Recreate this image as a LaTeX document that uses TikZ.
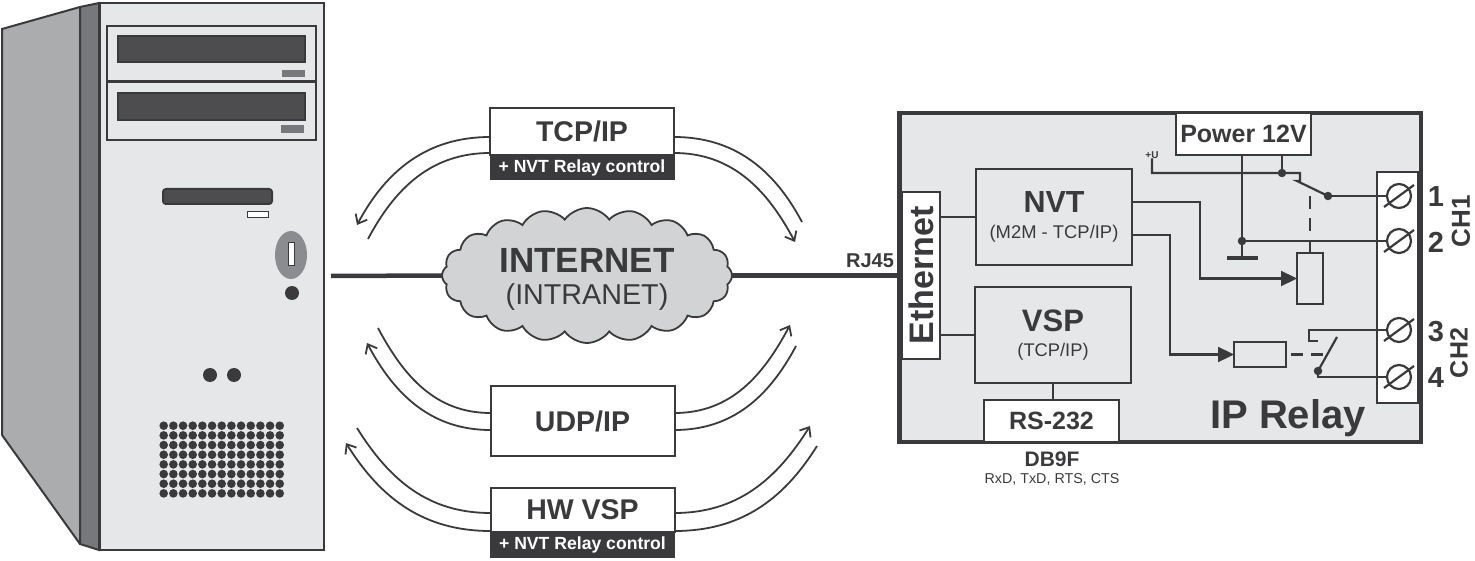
\documentclass[tikz,border=0pt]{standalone}
\usepackage{fontspec}
\setmainfont{Liberation Sans}
\usetikzlibrary{positioning,arrows.meta,shapes.symbols}
\definecolor{ink}{HTML}{3A3A3C}
\definecolor{panel}{HTML}{E6E7E8}
\definecolor{sidewall}{HTML}{ABACAE}
\definecolor{edgewall}{HTML}{77787B}
\definecolor{slot}{HTML}{4D4D4F}
\definecolor{cloudgray}{HTML}{D1D3D4}
\newcommand{\fs}[1]{\fontsize{#1}{#1}\selectfont}
\begin{document}
\begin{tikzpicture}[x=1pt,y=-1pt,
  every node/.style={text=ink,inner sep=0pt,outer sep=0pt},
  towerline/.style={draw=ink,line width=2pt},
  proto/.style={draw=ink,fill=white,line width=2pt,minimum width=184pt,font=\fs{28.5}\bfseries},
  extra/.style={draw=ink,fill=ink,text=white,line width=1pt,minimum width=184pt,minimum height=25pt,font=\fs{17.6}\bfseries},
  flow/.style={draw=ink,line width=1.8pt},
  flowtip/.style={flow,-{Straight Barb[length=8pt,width=13pt,line width=1.8pt]}},
  block/.style={draw=ink,line width=2.4pt,align=center,minimum width=156pt,minimum height=96pt},
  wire/.style={draw=ink,line width=2.2pt},
  feed/.style={wire,-{Triangle[length=16pt,width=15pt]}},
  coil/.style={draw=ink,line width=2.2pt},
  screw/.style={circle,draw=ink,line width=2.2pt,minimum size=24pt},
  junction/.style={circle,fill=ink,minimum size=8.5pt},
  pin/.style={font=\fs{29}\bfseries}]
\useasboundingbox (0,0) rectangle (1475,561);

% tower
\fill[sidewall] (2,29) -- (80,7) -- (80,544) -- (2,435) -- cycle;
\draw[towerline] (2,435) -- (2,29) -- (80,7) (2,435) -- (80,544);
\draw[towerline,fill=edgewall] (80,7) -- (99,3) -- (99,550) -- (80,544) -- cycle;
\draw[towerline,fill=panel] (100,3) rectangle (324,550);
\draw[towerline,fill=panel] (107,26) rectangle (316,82);
\draw[towerline,fill=panel] (107,82) rectangle (316,140);
\draw[draw=ink,line width=3pt] (107,82) -- (316,82);
\draw[towerline,fill=slot] (118,36) rectangle (305,62);
\draw[towerline,fill=slot] (118,93) rectangle (305,120);
\fill[edgewall] (282,70) rectangle (305,77);
\fill[edgewall] (281,125) rectangle (304,133);
\draw[towerline,fill=slot,rounded corners=3pt] (163,189) rectangle (272,204);
\draw[draw=ink,line width=1pt,fill=white] (247,212) rectangle (268,218);
\fill[edgewall!85] (291,255) ellipse [x radius=16,y radius=24];
\draw[draw=ink,line width=1pt,fill=white] (288,243) rectangle (294,266);
\fill[ink] (292,293) circle [radius=7];
\fill[ink] (210,375) circle [radius=7];
\fill[ink] (234,375) circle [radius=7];
\foreach \i in {0,...,12}
  \foreach \j in {0,...,7}
    \fill[ink] (163.7+9.67*\i,425.7+9.67*\j) circle [radius=4.3];

% protocols
\node[proto,minimum height=47pt] (tcp) at (582,131.5) {TCP/IP};
\node[extra,below=0pt of tcp] (tcpctl) {+ NVT Relay control};
\node[proto,minimum height=70pt] (udp) at (582.5,421) {UDP/IP};
\node[proto,minimum height=44pt] (hwvsp) at (582.5,510) {HW VSP};
\node[extra,below=0pt of hwvsp] (hwctl) {+ NVT Relay control};

\node[cloud,draw=ink,fill=cloudgray,line width=1.8pt,cloud puffs=20,cloud puff arc=110,
  cloud ignores aspect,minimum width=290pt,minimum height=135pt] (internet) at (587,275.5) {};
\node[align=center] (nettext) at (587,279.5) {\fs{35}\bfseries INTERNET\\[10pt]\fs{28.7}(INTRANET)};

% curved flows
\coordinate (tcpL1) at (357,225);
\coordinate (tcpL2) at (368,239);
\coordinate (tcpR1) at (802,222);
\coordinate (tcpR2) at (795,242);
\coordinate (udpL1) at (378,328);
\coordinate (udpL2) at (367,343);
\coordinate (udpR1) at (790,325);
\coordinate (udpR2) at (796,346);
\coordinate (hwL1) at (357,428);
\coordinate (hwL2) at (346,443);
\coordinate (hwR1) at (810,426);
\coordinate (hwR2) at (817,446);
\draw[flowtip] ([yshift=-5.5pt]tcp.west) to[out=180,in=62] (tcpL1);
\draw[flow] ([yshift=-21.5pt]tcp.west) to[out=180,in=62] (tcpL2);
\draw[flow] ([yshift=-5.5pt]tcp.east) to[out=0,in=118] (tcpR1);
\draw[flowtip] ([yshift=-21.5pt]tcp.east) to[out=0,in=118] (tcpR2);
\draw[flow] ([yshift=8pt]udp.west) to[out=180,in=-62] (udpL1);
\draw[flowtip] ([yshift=-9pt]udp.west) to[out=180,in=-62] (udpL2);
\draw[flowtip] ([yshift=8pt]udp.east) to[out=0,in=-118] (udpR1);
\draw[flow] ([yshift=-9pt]udp.east) to[out=0,in=-118] (udpR2);
\draw[flow] ([yshift=-3pt]hwvsp.west) to[out=180,in=-58] (hwL1);
\draw[flowtip] ([yshift=-21pt]hwvsp.west) to[out=180,in=-58] (hwL2);
\draw[flowtip] ([yshift=-3pt]hwvsp.east) to[out=0,in=-122] (hwR1);
\draw[flow] ([yshift=-21pt]hwvsp.east) to[out=0,in=-122] (hwR2);

% relay
\node[draw=ink,fill=panel,line width=4.5pt,minimum width=521.5pt,minimum height=329pt] (relay) at (1160.25,277.5) {};
\coordinate (pc) at (331,276);
\draw[draw=ink,line width=4.5pt] (pc) -- (internet.west);
\draw[draw=ink,line width=4.5pt] (internet.east) -- (internet.east -| relay.west);
\node[font=\fs{20}\bfseries,anchor=base] (rj45) at (870,268) {RJ45};

\node[rotate=90,draw=ink,fill=white,line width=2.2pt,minimum width=167pt,minimum height=38pt,font=\fs{34}\bfseries] (eth) at (921,275.5) {Ethernet};
\node[block] (nvt) at (1054,217) {\fs{30.5}\bfseries NVT\\[11pt]\fs{18.4}(M2M - TCP/IP)};
\node[block] (vsp) at (1053,335) {\fs{31}\bfseries VSP\\[11pt]\fs{18.3}(TCP/IP)};
\node[draw=ink,fill=white,line width=2.4pt,minimum width=135pt,minimum height=42pt,font=\fs{25}\bfseries] (rs232) at (1051.5,421) {RS-232};
\node[font=\fs{21}\bfseries] (db9f) at (1052,459) {DB9F};
\node[font=\fs{14.3}] (rxtx) at (1052,479) {RxD, TxD, RTS, CTS};
\draw[wire] (nvt.west) -- (nvt.west -| eth.south);
\draw[wire] (vsp.west) -- (vsp.west -| eth.south);
\draw[wire] (vsp.south) -- (vsp.south |- rs232.north);

\node[draw=ink,fill=white,line width=2.4pt,minimum width=135pt,minimum height=42pt,font=\fs{25}\bfseries] (power) at (1243.5,134) {Power 12V};
\node[draw=ink,fill=white,line width=2.2pt,minimum width=41pt,minimum height=231pt] (strip) at (1397.5,287.5) {};
\node[font=\fs{40}\bfseries,anchor=base] (iprelay) at (1288,428) {IP Relay};

\foreach \n/\y in {1/196,2/241,3/330,4/377}{
  \node[screw] (t\n) at (1399,\y) {};
  \draw[wire] ([xshift=-15pt,yshift=-11pt]t\n.center) -- ([xshift=15pt,yshift=11pt]t\n.center);
}
\node[pin] (n1) at (1436,197) {1};
\node[pin] (n2) at (1436,242) {2};
\node[pin] (n3) at (1436,332) {3};
\node[pin] (n4) at (1436,378) {4};
\node[rotate=90,font=\fs{26}\bfseries] (ch1) at (1461,221) {CH1};
\node[rotate=90,font=\fs{25}\bfseries] (ch2) at (1459,353) {CH2};

% channel 1
\node[font=\fs{10}\bfseries] (plusu) at (1152,155) {+U};
\node[junction] (j1) at (1282,173) {};
\node[junction] (k1) at (1328,196) {};
\node[junction] (j2) at (1242,241) {};
\coordinate (gnd) at (1242,258);
\coordinate (lever1) at (1297,181);
\draw[wire] (plusu.south) |- (j1.center) -- (1300,173) |- (lever1) -- (k1.center);
\draw[wire] (k1.center) -- (t1.west);
\draw[wire] (j1.center) -- (j1.center |- power.south);
\draw[wire] (j2.center |- power.south) -- (gnd);
\draw[wire] (j2.center) -- (t2.west);
\draw[draw=ink,line width=4.5pt] (1227,258) -- (1258,258);
\node[coil,minimum width=26pt,minimum height=51pt] (coil1) at (1310,278.5) {};
\draw[wire,dash pattern=on 13pt off 9pt] (coil1.north |- k1.center) -- (coil1.north);
\coordinate (nvtA) at (1132,202);
\coordinate (bendA) at (1200,202);
\draw[feed] (nvtA) -- (bendA) |- (coil1.west);

% channel 2
\node[coil,minimum width=52pt,minimum height=25pt] (coil2) at (1260,354.5) {};
\node[junction] (k2) at (1318,371) {};
\coordinate (lever2) at (1337,337);
\coordinate (nvtB) at (1132,235);
\coordinate (bendB) at (1170,235);
\coordinate (fix2) at (1318,341);
\coordinate (dashstart) at (1291,354.5);
\coordinate (dashend) at (1323,354.5);
\draw[feed] (nvtB) -- (bendB) |- (coil2.west);
\draw[wire,dash pattern=on 12pt off 8pt] (dashstart) -- (dashend);
\draw[wire] (fix2) -- (1309,341) -- (1309,330) -- (t3.west);
\draw[wire] (k2.center) -- (lever2);
\draw[wire] (k2.center) |- (t4.west);
\end{tikzpicture}
\end{document}
